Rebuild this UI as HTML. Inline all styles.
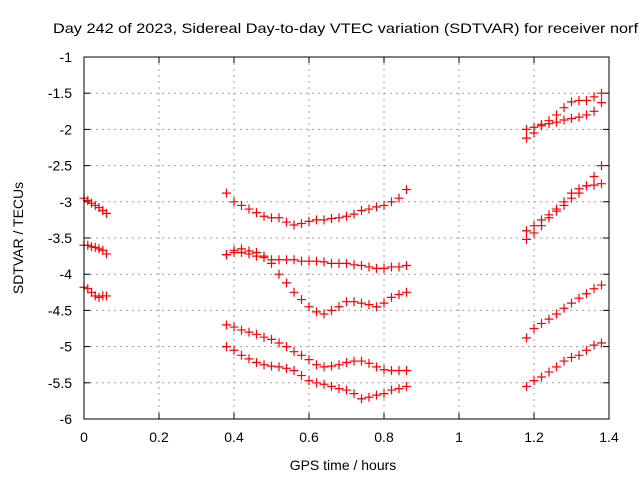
<!DOCTYPE html>
<html><head><meta charset="utf-8"><style>
body{margin:0;background:#fff;width:640px;height:480px;overflow:hidden}
svg{display:block;font-family:"Liberation Sans",sans-serif}
</style></head><body>
<svg id="c" width="640" height="480">
<text x="53" y="33" font-size="14" textLength="585" lengthAdjust="spacingAndGlyphs">Day 242 of 2023, Sidereal Day-to-day VTEC variation (SDTVAR) for receiver norf</text>
<text x="343" y="470" font-size="14" text-anchor="middle">GPS time / hours</text>
<text transform="translate(23,238) rotate(-90)" font-size="14" text-anchor="middle">SDTVAR / TECUs</text>
<g id="grid"></g><g id="ticks"></g><g id="marks"></g>
<rect x="84" y="57" width="525" height="362" fill="none" stroke="#000"/>
</svg>
<script>
const xTicks=[0,0.2,0.4,0.6,0.8,1,1.2,1.4];
const yTicks=[-1,-1.5,-2,-2.5,-3,-3.5,-4,-4.5,-5,-5.5,-6];
const tA=[0,0.01,0.02,0.03,0.04,0.05,0.06];
const a1=[-2.95,-2.98,-3.02,-3.05,-3.08,-3.12,-3.16];
const a2=[-3.6,-3.6,-3.62,-3.63,-3.65,-3.67,-3.72];
const a3=[-4.18,-4.2,-4.25,-4.3,-4.32,-4.3,-4.3];
const tB=[0.38,0.40,0.42,0.44,0.46,0.48,0.50,0.52,0.54,0.56,0.58,0.60,0.62,0.64,0.66,0.68,0.70,0.72,0.74,0.76,0.78,0.80,0.82,0.84,0.86];
const b1=[-2.88,-3.0,-3.05,-3.1,-3.15,-3.2,-3.22,-3.22,-3.28,-3.32,-3.3,-3.27,-3.25,-3.25,-3.23,-3.22,-3.2,-3.17,-3.12,-3.1,-3.07,-3.05,-3.0,-2.95,-2.83];
const b2=[-3.73,-3.7,-3.7,-3.72,-3.75,-3.77,-3.8,-3.8,-3.8,-3.8,-3.82,-3.82,-3.82,-3.83,-3.85,-3.85,-3.85,-3.87,-3.88,-3.9,-3.92,-3.92,-3.9,-3.9,-3.88];
const b3=[-3.73,-3.67,-3.65,-3.68,-3.7,-3.75,-3.85,-4.0,-4.12,-4.25,-4.35,-4.45,-4.52,-4.55,-4.5,-4.45,-4.38,-4.38,-4.4,-4.42,-4.45,-4.4,-4.32,-4.28,-4.25];
const b4=[-4.7,-4.73,-4.77,-4.8,-4.83,-4.87,-4.9,-4.95,-5.0,-5.07,-5.12,-5.18,-5.25,-5.28,-5.27,-5.25,-5.22,-5.2,-5.2,-5.23,-5.28,-5.32,-5.33,-5.33,-5.33];
const b5=[-5.0,-5.05,-5.12,-5.17,-5.22,-5.25,-5.27,-5.28,-5.3,-5.33,-5.4,-5.47,-5.5,-5.52,-5.55,-5.58,-5.6,-5.65,-5.72,-5.7,-5.67,-5.65,-5.6,-5.58,-5.55];
const tC=[1.18,1.20,1.22,1.24,1.26,1.28,1.30,1.32,1.34,1.36,1.38];
const c1=[-2.0,-1.97,-1.93,-1.88,-1.8,-1.7,-1.62,-1.6,-1.6,-1.55,-1.5];
const c2=[-2.12,-2.05,-1.95,-1.92,-1.9,-1.87,-1.85,-1.83,-1.8,-1.75,-1.63];
const c3=[-3.4,-3.33,-3.25,-3.18,-3.1,-3.0,-2.88,-2.82,-2.78,-2.77,-2.75];
const c4=[-3.52,-3.43,-3.33,-3.22,-3.13,-3.05,-2.95,-2.88,-2.78,-2.65,-2.5];
const c5=[-4.88,-4.75,-4.68,-4.62,-4.55,-4.47,-4.4,-4.33,-4.27,-4.2,-4.15];
const c6=[-5.55,-5.47,-5.42,-5.35,-5.28,-5.2,-5.15,-5.12,-5.05,-4.98,-4.95];
const X0=84,X1=609,Y0=57,Y1=419;
const sx=t=>X0+(t-0)/1.4*(X1-X0);
const sy=v=>Y0+(-1-v)/5*(Y1-Y0);
const NS='http://www.w3.org/2000/svg';
function mk(tag,at,parent){const e=document.createElementNS(NS,tag);for(const k in at)e.setAttribute(k,at[k]);parent.appendChild(e);return e;}
const grid=document.getElementById('grid'),ticks=document.getElementById('ticks'),marks=document.getElementById('marks');
xTicks.forEach(t=>{const x=sx(t);
 if(t>0&&t<1.4){const g=mk('line',{x1:x,x2:x,y1:Y0,y2:Y1,stroke:'#a0a0a0','stroke-dasharray':'2,4'},grid);
 
 }
 mk('line',{x1:x,x2:x,y1:Y1,y2:Y1-6,stroke:'#000'},ticks);
 mk('line',{x1:x,x2:x,y1:Y0,y2:Y0+6,stroke:'#000'},ticks);
 const l=mk('text',{x:x,y:442,'font-size':14,'text-anchor':'middle'},ticks);l.textContent=String(t);
 
 
});
yTicks.forEach(v=>{const y=sy(v);
 if(v<-1&&v>-6){const g=mk('line',{x1:X0,x2:X1,y1:y,y2:y,stroke:'#a0a0a0','stroke-dasharray':'2,4'},grid);
 
 }
 mk('line',{x1:X0,x2:X0+6,y1:y,y2:y,stroke:'#000'},ticks);
 mk('line',{x1:X1,x2:X1-6,y1:y,y2:y,stroke:'#000'},ticks);
 const l=mk('text',{x:72,y:y+5,'font-size':14,'text-anchor':'end'},ticks);l.textContent=String(v);
 
 
});
const series=[[tA,a1],[tA,a2],[tA,a3],[tB,b1],[tB,b2],[tB,b3],[tB,b4],[tB,b5],[tC,c1],[tC,c2],[tC,c3],[tC,c4],[tC,c5],[tC,c6]];
series.forEach(([ts,vs])=>{ts.forEach((t,i)=>{const x=sx(t),y=sy(vs[i]);
 const p=mk('path',{d:`M${x-4.5},${y}H${x+4.5}M${x},${y-4.5}V${y+4.5}`,stroke:'#f00','stroke-width':1.2,fill:'none'},marks);
 
 
});});
</script>
</body></html>
